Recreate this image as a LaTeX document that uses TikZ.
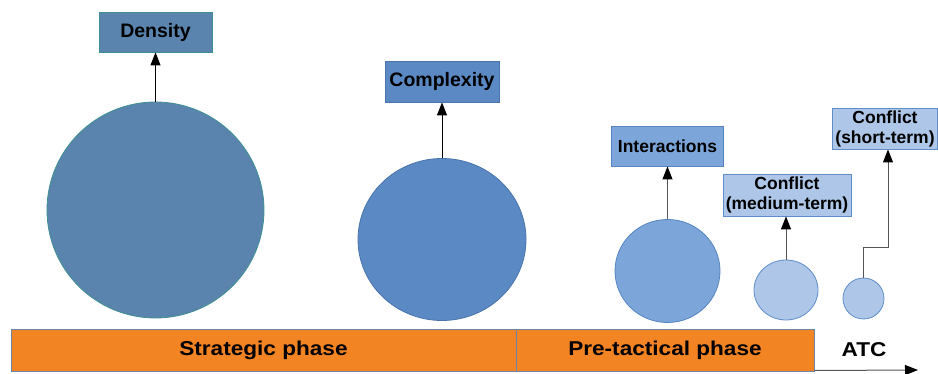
\documentclass[tikz,border=0pt]{standalone}
\usepackage{fontspec}
\setmainfont{Liberation Sans}
\newfontfamily\widesans[FakeStretch=1.13]{Liberation Sans}
\usetikzlibrary{shapes.geometric,arrows.meta,calc}

\definecolor{densblue}{HTML}{5A84AE}
\definecolor{densedge}{HTML}{3E9090}
\definecolor{compblue}{HTML}{5B89C4}
\definecolor{compedge}{HTML}{4A74AC}
\definecolor{interblue}{HTML}{7CA6DA}
\definecolor{interedge}{HTML}{5585C0}
\definecolor{confblue}{HTML}{AEC7E8}
\definecolor{confedge}{HTML}{5E8DCA}
\definecolor{phaseorange}{HTML}{F38424}
\definecolor{phaseedge}{HTML}{6B84A8}
\definecolor{leadgray}{HTML}{555555}

\tikzset{
  blob/.style={ellipse, inner sep=0pt, line width=0.8pt},
  label box/.style={rectangle, inner sep=0pt, line width=0.8pt, align=center},
  big label/.style={font=\fontsize{19.5}{22}\selectfont\bfseries},
  small label/.style={font=\fontsize{17.5}{20}\selectfont\bfseries},
  lead/.style={line width=1pt, -{Triangle[length=13pt,width=10pt,color=black]}},
  phase/.style={rectangle, fill=phaseorange, draw=phaseedge, line width=1pt, inner sep=0pt,
                font=\widesans\fontsize{20}{23}\selectfont\bfseries},
}

\begin{document}
\begin{tikzpicture}[x=1pt,y=-1pt]
\useasboundingbox (0,0) rectangle (938,374);

% measures, largest to smallest
\node[blob, fill=densblue, draw=densedge, minimum width=217, minimum height=216] (c1) at (155.5,210) {};
\node[blob, fill=compblue, draw=compedge, minimum width=168, minimum height=162] (c2) at (442,239.5) {};
\node[blob, fill=interblue, draw=interedge, minimum width=105, minimum height=103] (c3) at (667.5,271) {};
\node[blob, fill=confblue, draw=confedge, minimum width=64, minimum height=60] (c4) at (786,290) {};
\node[blob, fill=confblue, draw=confedge, minimum width=41, minimum height=41] (c5) at (863.5,298.5) {};

% labels
\node[label box, big label, fill=densblue, draw=densedge, minimum width=113, minimum height=40] (d) at (155.5,32) {Density};
\node[label box, big label, fill=compblue, draw=compedge, minimum width=114, minimum height=41] (cx) at (442,81.5) {Complexity};
\node[label box, small label, fill=interblue, draw=interedge, minimum width=112, minimum height=40] (in) at (667.5,146) {Interactions};
\node[label box, small label, fill=confblue, draw=confedge, minimum width=128, minimum height=42] (cm) at (787,195) {Conflict\\(medium-term)};
\node[label box, small label, fill=confblue, draw=confedge, minimum width=105, minimum height=41] (cs) at (885,129) {Conflict\\(short-term)};

% leads from each measure to its label
\draw[lead, black] (c1.north) -- (c1.north |- d.south);
\draw[lead, black] (c2.north) -- (c2.north |- cx.south);
\draw[lead, leadgray] (c3.north) -- (c3.north |- in.south);
\draw[lead, leadgray] (c4.north) -- (c4.north |- cm.south);
\coordinate (csin) at (888,149.5);
\draw[lead, leadgray] (c5.north) -- ++(0,-30) -| (csin);

% timeline of phases
\node[phase, minimum width=505, minimum height=41] (sp) at (263.5,350.5) {Strategic phase};
\node[phase, minimum width=298, minimum height=41] (pt) at (665,350.5) {Pre-tactical phase};
\node[font=\widesans\fontsize{20}{23}\selectfont\bfseries] (atc) at (864,350) {ATC};
\coordinate (tend) at (918,370);
\draw[lead, leadgray] (pt.south east) ++(0,-1) -- (tend);
\end{tikzpicture}
\end{document}
